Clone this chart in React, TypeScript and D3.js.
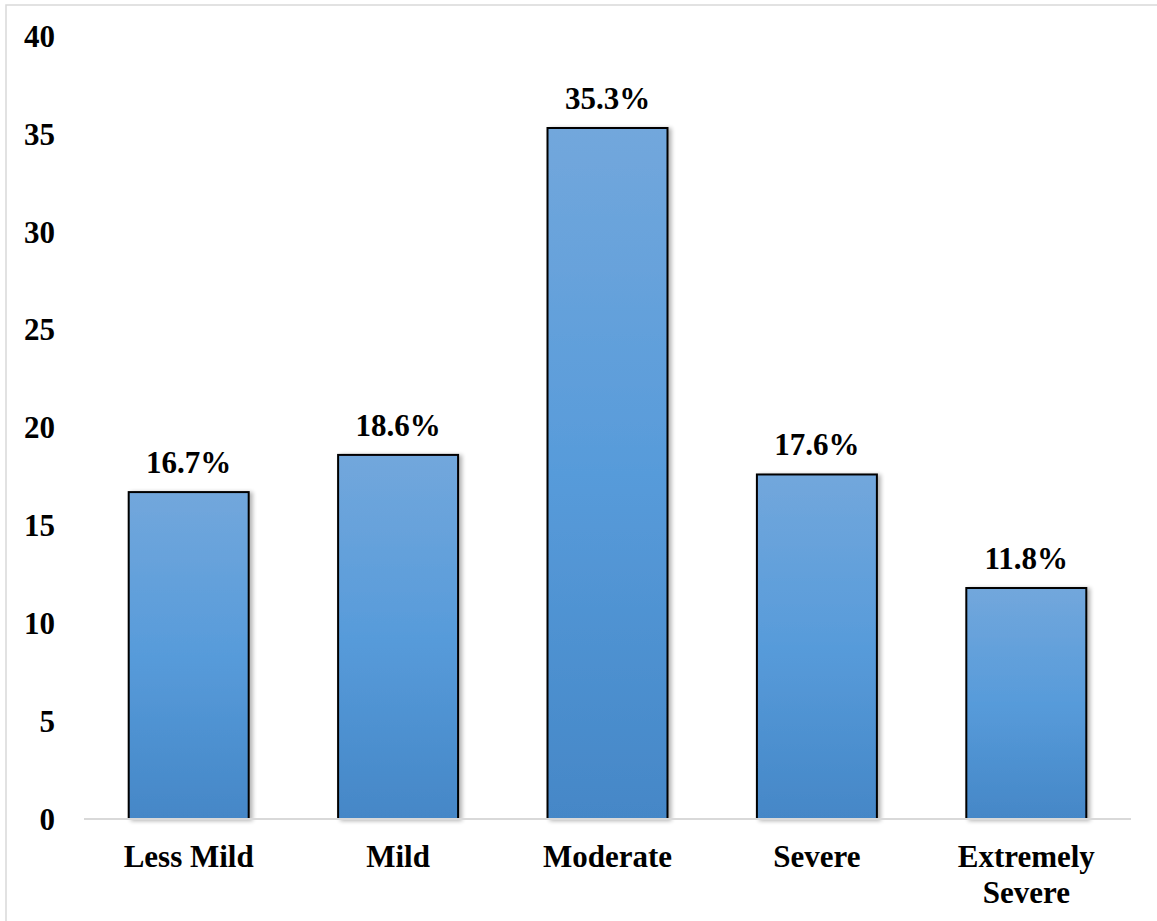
import React from "react";
import * as d3 from "d3";

const categories: string[][] = [
  ["Less Mild"],
  ["Mild"],
  ["Moderate"],
  ["Severe"],
  ["Extremely", "Severe"],
];
const values: number[] = [16.7, 18.6, 35.3, 17.6, 11.8];
const yTicks: number[] = [0, 5, 10, 15, 20, 25, 30, 35, 40];

const W = 1157;
const H = 921;
const FONT = "'Liberation Serif', 'Times New Roman', serif";

export default function App() {
  const x = d3
    .scaleBand<number>()
    .domain(d3.range(values.length))
    .range([84, 1131])
    .paddingInner(0.427)
    .paddingOuter(0.2135);
  const y = d3.scaleLinear().domain([0, 40]).range([819, 36]);

  return (
    <svg
      width={W}
      height={H}
      style={{ position: "absolute", left: 0, top: 0, background: "#fff" }}
      fontFamily={FONT}
      fontWeight="bold"
    >
      <defs>
        <linearGradient id="barFill" x1="0" y1="0" x2="0" y2="1">
          <stop offset="0%" stopColor="#72a7dc" />
          <stop offset="50%" stopColor="#579bda" />
          <stop offset="100%" stopColor="#4587c7" />
        </linearGradient>
        <filter id="barShadow" x="-10%" y="-10%" width="130%" height="120%">
          <feGaussianBlur in="SourceAlpha" stdDeviation="2" />
          <feOffset dx="3" dy="1" result="blur" />
          <feComponentTransfer>
            <feFuncA type="linear" slope="0.3" />
          </feComponentTransfer>
          <feMerge>
            <feMergeNode />
            <feMergeNode in="SourceGraphic" />
          </feMerge>
        </filter>
      </defs>

      {/* outer frame */}
      <rect x={6} y={5} width={W} height={H} fill="none" stroke="#d9d9d9" strokeWidth={1.5} />

      {/* y axis tick labels */}
      {yTicks.map((t) => (
        <text
          key={t}
          x={55}
          y={y(t)}
          dy="0.35em"
          textAnchor="end"
          fontSize={31}
          fill="#000"
        >
          {t}
        </text>
      ))}

      {/* bars */}
      {values.map((v, i) => (
        <rect
          key={i}
          x={x(i)!}
          y={y(v)}
          width={x.bandwidth()}
          height={y(0) - y(v)}
          fill="url(#barFill)"
          stroke="#000"
          strokeWidth={2}
          filter="url(#barShadow)"
        />
      ))}

      {/* baseline */}
      <line x1={84} x2={1131} y1={y(0)} y2={y(0)} stroke="#d9d9d9" strokeWidth={2} />

      {/* value labels */}
      {values.map((v, i) => (
        <text
          key={i}
          x={x(i)! + x.bandwidth() / 2}
          y={y(v) - 19}
          textAnchor="middle"
          fontSize={31}
          fill="#000"
        >
          {v.toFixed(1)}%
        </text>
      ))}

      {/* category labels */}
      {categories.map((lines, i) => (
        <text
          key={i}
          x={x(i)! + x.bandwidth() / 2}
          y={867}
          textAnchor="middle"
          fontSize={31}
          fill="#000"
        >
          {lines.map((ln, j) => (
            <tspan key={j} x={x(i)! + x.bandwidth() / 2} dy={j === 0 ? 0 : 36}>
              {ln}
            </tspan>
          ))}
        </text>
      ))}
    </svg>
  );
}
